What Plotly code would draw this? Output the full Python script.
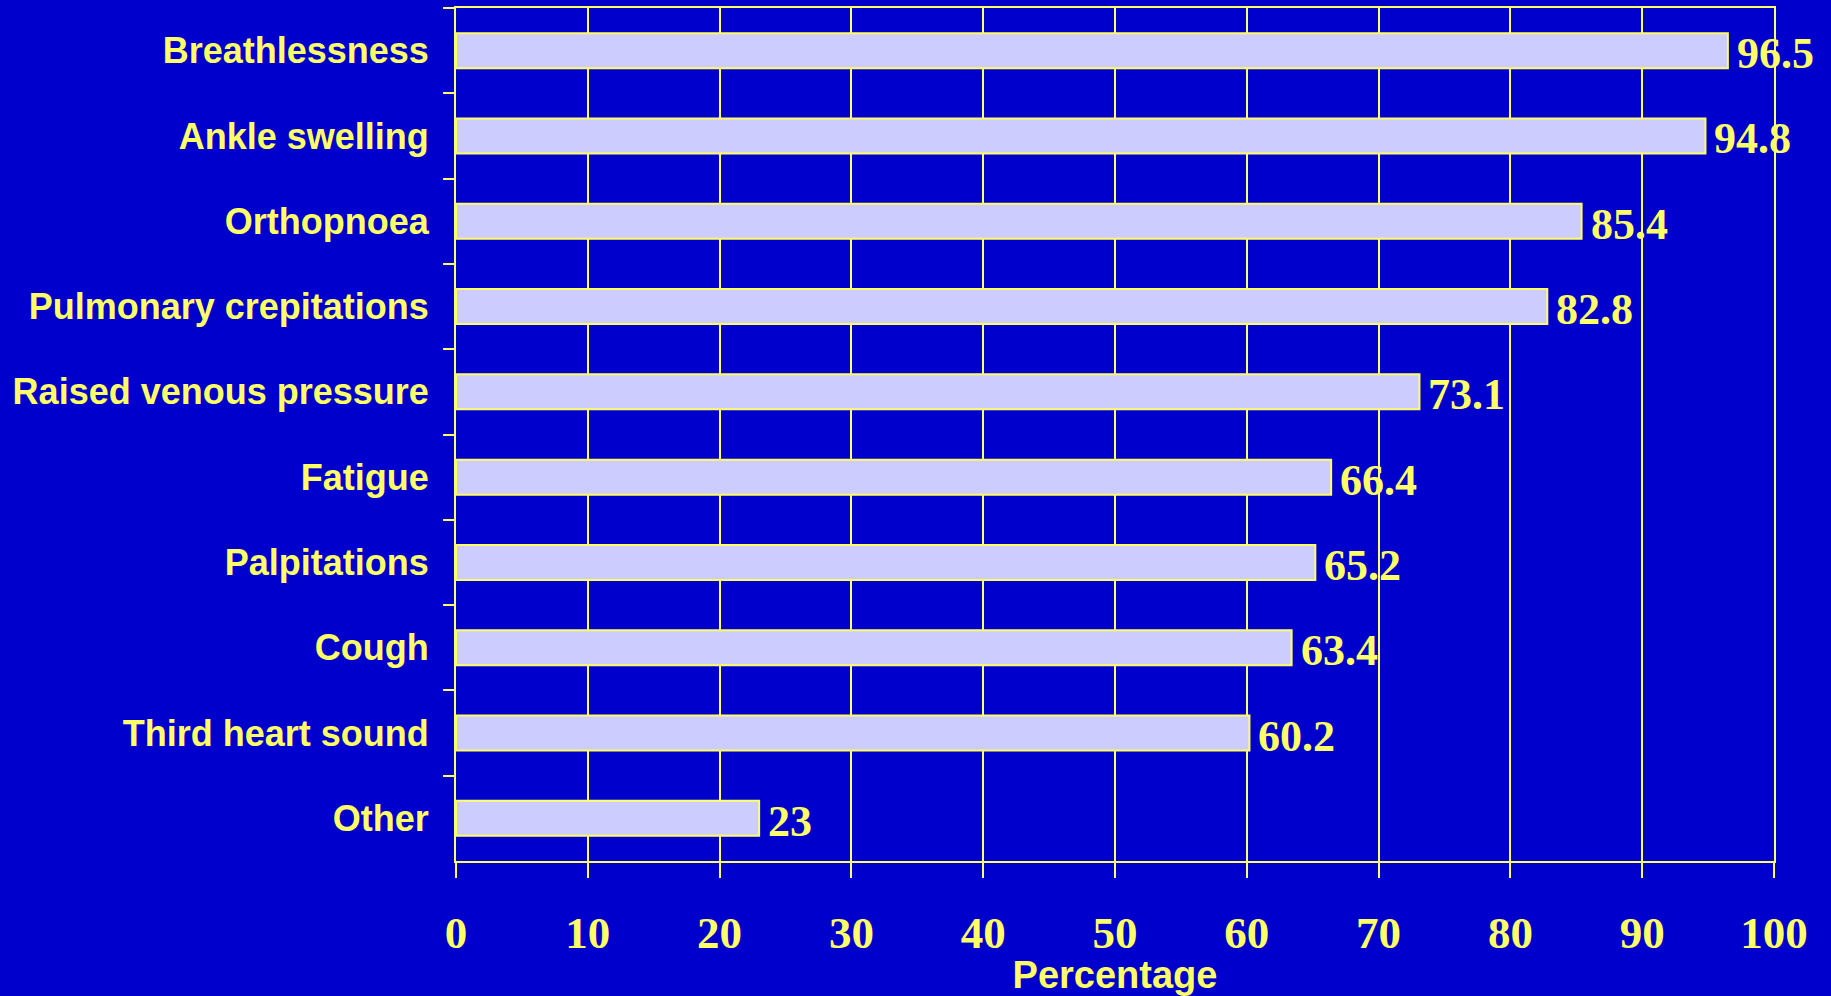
import plotly.graph_objects as go

categories = ["Breathlessness", "Ankle swelling", "Orthopnoea", "Pulmonary crepitations",
              "Raised venous pressure", "Fatigue", "Palpitations", "Cough",
              "Third heart sound", "Other"]
values = [96.5, 94.8, 85.4, 82.8, 73.1, 66.4, 65.2, 63.4, 60.2, 23]
value_labels = ["96.5", "94.8", "85.4", "82.8", "73.1", "66.4", "65.2", "63.4", "60.2", "23"]
x_ticks = [0, 10, 20, 30, 40, 50, 60, 70, 80, 90, 100]

BG = "#0000CC"
YEL = "#FFFF66"
BAR = "#CCCCFF"

fig = go.Figure(go.Bar(
    y=categories, x=values, orientation="h",
    marker=dict(color=BAR, line=dict(color=YEL, width=2)),
    width=0.41,
))

for cat, val, lab in zip(categories, values, value_labels):
    fig.add_annotation(
        x=val, y=cat, text=lab, showarrow=False,
        xanchor="left", yanchor="middle", xshift=7, yshift=-3,
        font=dict(family="Liberation Serif", size=44, color=YEL, weight="bold"),
    )

fig.update_layout(
    width=1831, height=996,
    paper_bgcolor=BG, plot_bgcolor=BG,
    margin=dict(l=456, r=57, t=6, b=135),
    showlegend=False,
    xaxis=dict(
        range=[0, 100], tickvals=x_ticks, ticktext=[str(v) for v in x_ticks],
        showgrid=True, gridcolor=YEL, gridwidth=2,
        showline=True, linecolor=YEL, linewidth=2, mirror=True,
        ticks="outside", ticklen=15, tickwidth=2, tickcolor=YEL,
        tickfont=dict(family="Liberation Serif", size=45, color=YEL, weight="bold"),
        ticklabelstandoff=16,
        zeroline=False,
        title=dict(text="Percentage", standoff=5,
                   font=dict(family="Liberation Sans", size=38, color=YEL, weight="bold")),
    ),
    yaxis=dict(
        categoryorder="array", categoryarray=categories, autorange="reversed",
        showgrid=False, zeroline=False,
        showline=True, linecolor=YEL, linewidth=2, mirror=True,
        ticks="outside", ticklen=11, tickwidth=2, tickcolor=YEL, tickson="boundaries",
        tickfont=dict(family="Liberation Sans", size=36, color=YEL, weight="bold"),
        ticklabelstandoff=18,
    ),
)

fig.write_html("out.html")
